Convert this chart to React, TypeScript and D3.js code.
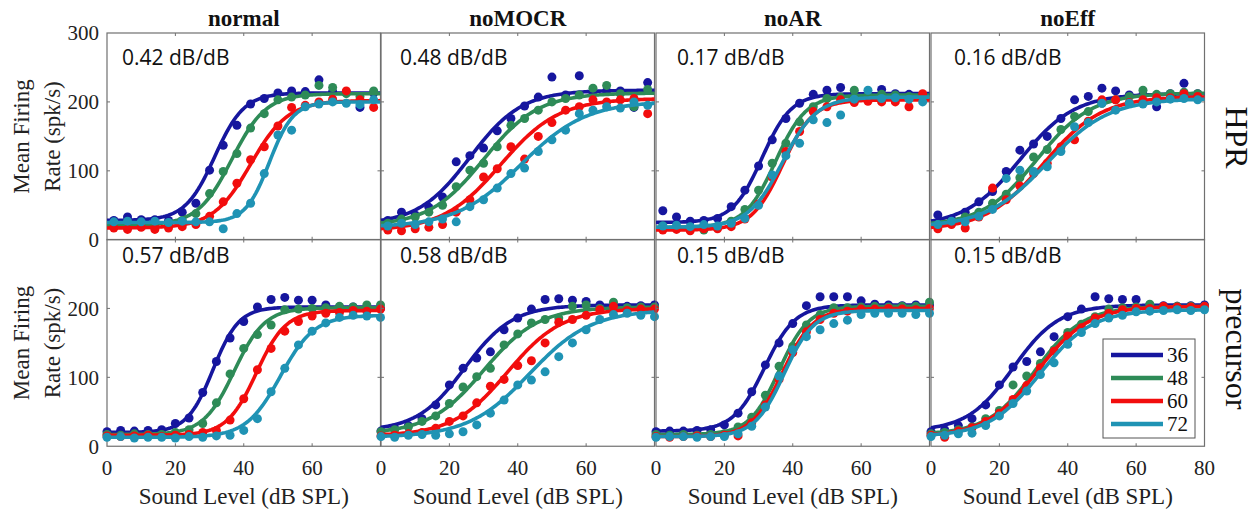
import React from 'react';
import * as d3 from 'd3';

// ---------- labels ----------
const toneLevels = ['36', '48', '60', '72'];
const seriesColors = ['#16169e', '#2e8b57', '#f20d0d', '#1f93b4'];
const conditions = ['normal', 'noMOCR', 'noAR', 'noEff'];
const rowNames = ['HPR', 'precursor'];
const hprGain = ['0.42 dB/dB', '0.48 dB/dB', '0.17 dB/dB', '0.16 dB/dB'];
const precursorGain = ['0.57 dB/dB', '0.58 dB/dB', '0.15 dB/dB', '0.15 dB/dB'];
const xTicks = [0, 20, 40, 60, 80];
const yTicks = [0, 100, 200, 300];

// sound levels of the measured points (dB SPL)
const hprLevels = [2, 6, 10, 14, 18, 22, 26, 30, 34, 38, 42, 46, 50, 54, 58, 62, 66, 70, 74, 78];
const precursorLevels = [0, 4, 8, 12, 16, 20, 24, 28, 32, 36, 40, 44, 48, 52, 56, 60, 64, 68, 72, 76, 80];

// ---------- measured rates (spk/s), one row per tone level 36/48/60/72 ----------
const hprNormal = [
  [28, 33, 29, 29, 28, 40, 53, 101, 137, 166, 197, 205, 213, 216, 215, 232, 215, 214, 192, 213],
  [24, 21, 20, 21, 22, 28, 38, 67, 99, 125, 162, 183, 203, 207, 210, 224, 221, 212, 208, 216],
  [17, 15, 18, 15, 17, 19, 22, 34, 55, 82, 116, 135, 165, 192, 195, 200, 204, 216, 203, 192],
  [26, 27, 26, 27, 25, 27, 26, 26, 16, 38, 53, 96, 152, 159, 193, 197, 200, 198, 196, 203],
];
const hprNoMOCR = [
  [28, 40, 36, 47, 62, 113, 122, 133, 158, 176, 194, 207, 236, 210, 238, 213, 216, 216, 192, 228],
  [24, 30, 33, 40, 50, 77, 101, 111, 135, 166, 176, 188, 200, 205, 210, 220, 224, 212, 193, 218],
  [14, 13, 16, 18, 22, 40, 58, 91, 103, 135, 117, 150, 170, 188, 193, 203, 200, 203, 205, 183],
  [20, 24, 22, 26, 30, 26, 48, 58, 75, 96, 104, 128, 145, 159, 183, 188, 193, 191, 200, 195],
];
const hprNoAR = [
  [42, 33, 27, 28, 31, 48, 72, 107, 145, 176, 198, 211, 217, 221, 212, 210, 218, 212, 211, 210],
  [20, 17, 18, 14, 19, 27, 44, 72, 111, 140, 171, 193, 205, 207, 217, 209, 211, 210, 208, 210],
  [14, 15, 13, 16, 16, 19, 30, 52, 91, 128, 157, 186, 193, 203, 199, 201, 200, 200, 193, 212],
  [20, 21, 19, 22, 20, 24, 31, 50, 94, 122, 140, 174, 170, 181, 204, 217, 205, 206, 204, 200],
];
const hprNoEff = [
  [36, 30, 40, 55, 70, 99, 130, 139, 150, 176, 203, 208, 220, 216, 210, 211, 193, 212, 227, 212],
  [22, 26, 33, 40, 53, 66, 90, 120, 131, 160, 179, 186, 198, 203, 208, 217, 211, 212, 214, 212],
  [16, 22, 17, 33, 75, 58, 78, 96, 111, 135, 145, 172, 203, 203, 199, 203, 206, 206, 212, 208],
  [22, 27, 26, 34, 44, 89, 101, 99, 106, 128, 164, 170, 198, 188, 198, 197, 200, 204, 205, 203],
];
const precursorNormal = [
  [21, 23, 22, 23, 24, 33, 41, 78, 123, 157, 181, 202, 213, 216, 212, 212, 205, 202, 202, 200, 200],
  [17, 16, 18, 17, 17, 20, 24, 33, 63, 105, 142, 162, 176, 198, 199, 200, 201, 203, 202, 205, 205],
  [15, 14, 15, 16, 14, 16, 17, 20, 23, 38, 69, 111, 142, 167, 181, 189, 193, 194, 197, 196, 199],
  [13, 14, 12, 13, 13, 12, 14, 13, 15, 16, 23, 40, 79, 113, 147, 167, 179, 187, 190, 189, 187],
];
const precursorNoMOCR = [
  [22, 26, 30, 40, 60, 89, 113, 128, 137, 169, 186, 199, 213, 214, 212, 210, 205, 204, 203, 204, 205],
  [21, 24, 28, 36, 44, 62, 86, 101, 113, 147, 163, 179, 184, 186, 203, 205, 200, 209, 201, 202, 202],
  [15, 16, 18, 20, 26, 36, 44, 63, 87, 97, 117, 124, 150, 180, 184, 190, 198, 203, 197, 199, 199],
  [14, 13, 16, 17, 16, 18, 21, 31, 48, 67, 89, 96, 108, 130, 150, 169, 184, 191, 193, 190, 188],
];
const precursorNoAR = [
  [21, 22, 22, 23, 24, 31, 48, 79, 118, 150, 178, 204, 217, 217, 217, 211, 206, 205, 204, 205, 205],
  [17, 16, 17, 16, 17, 18, 28, 42, 74, 116, 145, 176, 191, 201, 201, 202, 203, 202, 203, 203, 209],
  [14, 13, 14, 15, 14, 16, 15, 34, 60, 97, 136, 166, 184, 193, 196, 199, 199, 200, 199, 198, 200],
  [13, 14, 14, 13, 14, 14, 18, 29, 57, 102, 140, 159, 169, 178, 183, 191, 193, 193, 193, 191, 193],
];
const precursorNoEff = [
  [21, 24, 30, 40, 60, 89, 115, 123, 137, 159, 188, 199, 217, 214, 213, 213, 205, 204, 203, 204, 205],
  [18, 20, 24, 28, 40, 52, 89, 102, 120, 140, 165, 177, 188, 199, 201, 202, 206, 202, 203, 203, 203],
  [16, 13, 22, 27, 36, 48, 68, 88, 114, 138, 160, 172, 186, 193, 198, 200, 200, 203, 202, 202, 203],
  [14, 16, 18, 19, 30, 44, 62, 80, 104, 121, 148, 165, 178, 186, 190, 195, 196, 197, 198, 197, 198],
];

// ---------- sigmoid fit parameters [floor, ceiling, midpoint dB, slope dB] ----------
const fitHprNormal = [[28, 213, 31.5, 4.3], [21, 212, 36.5, 5], [17, 202, 42, 5.5], [25, 200, 47.5, 3.5]];
const fitHprNoMOCR = [[22, 217, 26, 7.6], [20, 213, 30, 8], [13, 205, 35, 8.5], [18, 201, 41, 9.5]];
const fitHprNoAR = [[25, 212, 31, 4.3], [18, 210, 35, 4.5], [14, 203, 37, 4.5], [18, 207, 37, 5]];
const fitHprNoEff = [[20, 212, 26, 8], [20, 213, 31, 8], [14, 208, 33, 8.5], [18, 205, 34, 9]];
const fitPrecursorNormal = [[20, 202, 31, 3.8], [17, 201, 37.2, 4.5], [16, 197, 43.7, 4.3], [13, 190, 50.7, 5]];
const fitPrecursorNoMOCR = [[22, 205, 24.5, 7], [18, 202, 30, 8], [15, 200, 37, 8], [13, 198, 43.5, 9]];
const fitPrecursorNoAR = [[22, 205, 31.7, 4.5], [17, 203, 36, 4.3], [14, 200, 37, 4.5], [14, 197, 37.5, 4.3]];
const fitPrecursorNoEff = [[22, 205, 24, 6.7], [17, 203, 30.5, 7], [14, 203, 31, 7.5], [14, 198, 32, 7.5]];

const panelRows = [
  { levels: hprLevels, data: [hprNormal, hprNoMOCR, hprNoAR, hprNoEff], fits: [fitHprNormal, fitHprNoMOCR, fitHprNoAR, fitHprNoEff], gains: hprGain },
  { levels: precursorLevels, data: [precursorNormal, precursorNoMOCR, precursorNoAR, precursorNoEff], fits: [fitPrecursorNormal, fitPrecursorNoMOCR, fitPrecursorNoAR, fitPrecursorNoEff], gains: precursorGain },
];

// ---------- layout ----------
const W = 1255, H = 511;
const colLeft = [107, 381, 656, 931];
const panelW = 273.5;
const rowTop = [33, 239.5];
const panelH = 206.75;
const gainDx = [15, 19, 21, 23];
const gainBaseline = [65, 263];
const SERIF = "'Liberation Serif', 'DejaVu Serif', serif";
const SANS = "'Open Sans', 'Noto Sans', sans-serif";
const AXIS = '#707070';

const serif = (size: number, weight: string | number = 'normal') => ({ fontFamily: SERIF, fontSize: `${size}px`, fontWeight: weight });

const sigmoid = (p: number[], x: number) => p[0] + (p[1] - p[0]) / (1 + Math.exp(-(x - p[2]) / p[3]));
const curveX = d3.range(0, 80.001, 0.5);

export default function App() {
  return (
    <svg width={W} height={H} style={{ position: 'absolute', left: 0, top: 0, background: '#fff' }}>
      <rect x={0} y={0} width={W} height={H} fill="#fff" />
      {panelRows.map((row, r) => {
        const y = d3.scaleLinear().domain([0, 300]).range([rowTop[r] + panelH, rowTop[r]]);
        return conditions.map((cond, c) => {
          const x = d3.scaleLinear().domain([0, 80]).range([colLeft[c], colLeft[c] + panelW]);
          return (
            <g key={`${r}-${c}`}>
              <rect x={colLeft[c]} y={rowTop[r]} width={panelW} height={panelH} fill="none" stroke={AXIS} strokeWidth={1.2} />
              {xTicks.slice(1, 4).map((t) => (
                <g key={`xt${t}`}>
                  <line x1={x(t)} x2={x(t)} y1={rowTop[r] + panelH} y2={rowTop[r] + panelH - 3} stroke={AXIS} />
                  <line x1={x(t)} x2={x(t)} y1={rowTop[r]} y2={rowTop[r] + 3} stroke={AXIS} />
                </g>
              ))}
              {yTicks.slice(1, 3).map((t) => (
                <g key={`yt${t}`}>
                  <line x1={colLeft[c]} x2={colLeft[c] + 3} y1={y(t)} y2={y(t)} stroke={AXIS} />
                  <line x1={colLeft[c] + panelW} x2={colLeft[c] + panelW - 3} y1={y(t)} y2={y(t)} stroke={AXIS} />
                </g>
              ))}
              {toneLevels.map((lv, s) => {
                const pts = row.data[c][s];
                const fit = row.fits[c][s];
                const path = d3.line<number>().x((d) => x(d)).y((d) => y(sigmoid(fit, d)))(curveX) || '';
                return (
                  <g key={lv}>
                    {pts.map((v, i) => (
                      <circle key={i} cx={x(row.levels[i])} cy={y(v)} r={4.5} fill={seriesColors[s]} />
                    ))}
                    <path d={path} fill="none" stroke={seriesColors[s]} strokeWidth={3.6} />
                  </g>
                );
              })}
              <text x={colLeft[c] + gainDx[c]} y={gainBaseline[r]} style={{ fontFamily: SANS, fontSize: '21px' }} fill="#111">
                {row.gains[c]}
              </text>
              {r === 1 &&
                xTicks.filter((t) => t < 80 || c === 3).map((t) => (
                  <text key={`xl${t}`} x={x(t)} y={475} textAnchor="middle" style={serif(21)} fill="#222">
                    {t}
                  </text>
                ))}
              {r === 1 && (
                <text x={colLeft[c] + panelW / 2} y={504} textAnchor="middle" style={serif(23)} fill="#222">
                  Sound Level (dB SPL)
                </text>
              )}
              {r === 0 && (
                <text x={colLeft[c] + panelW / 2} y={26} textAnchor="middle" style={serif(23, 'bold')} fill="#111">
                  {cond}
                </text>
              )}
              {c === 0 &&
                yTicks.filter((t) => r === 0 || t < 300).map((t) => (
                  <text key={`yl${t}`} x={99} y={y(t)} dy="0.35em" textAnchor="end" style={serif(21)} fill="#222">
                    {t}
                  </text>
                ))}
            </g>
          );
        });
      })}
      {[136.5, 343].map((yc, r) => (
        <g key={`ylab${r}`} fill="#222" textAnchor="middle">
          <text transform="rotate(-90)" x={-yc} y={29} style={serif(23)}>Mean Firing</text>
          <text transform="rotate(-90)" x={-yc} y={60} style={serif(23)}>Rate (spk/s)</text>
        </g>
      ))}
      {rowNames.map((name, r) => (
        <text key={name} transform="rotate(90)" x={[137.5, 349][r]} y={-1226} textAnchor="middle" style={serif(32)} fill="#111">
          {name}
        </text>
      ))}
      <g>
        <rect x={1103} y={339} width={92} height={99} fill="#fff" stroke="#555" strokeWidth={1} />
        {toneLevels.map((lv, i) => (
          <g key={lv}>
            <line x1={1111} x2={1163} y1={355 + i * 23} y2={355 + i * 23} stroke={seriesColors[i]} strokeWidth={4.5} />
            <text x={1167} y={355 + i * 23} dy="0.35em" style={serif(21)} fill="#111">
              {lv}
            </text>
          </g>
        ))}
      </g>
    </svg>
  );
}
